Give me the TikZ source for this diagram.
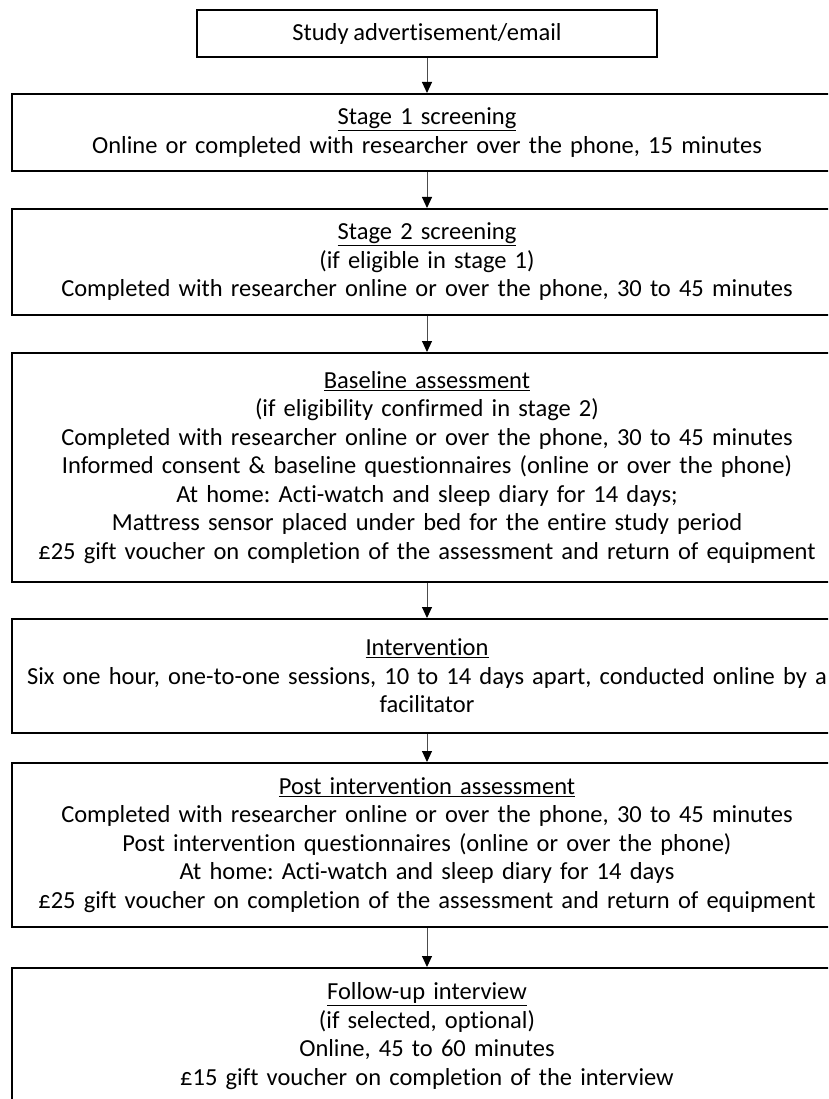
\documentclass[tikz,border=0pt]{standalone}
\usepackage{fontspec}
\setmainfont{Carlito}[Ligatures={NoCommon}, WordSpace=0.85]
\frenchspacing
\usetikzlibrary{arrows.meta, positioning}

\begin{document}
\begin{tikzpicture}[
  x=1pt, y=1pt,
  font=\fontsize{24.5}{28.5}\selectfont,
  stepbox/.style={draw, line width=2pt, rectangle, minimum width=830pt, text width=826pt,
                  align=center, inner sep=0pt, minimum height=#1},
  startbox/.style={draw, line width=2pt, rectangle, minimum width=460pt, minimum height=47pt,
                   align=center, inner sep=0pt},
  arr/.style={-{Triangle[length=11pt, width=10pt, color=black]}, line width=1pt, draw=black!70},
]

\clip (0,0) rectangle (828,-1099);
\fill[white] (0,0) rectangle (828,-1099);

% Recruitment
\node[startbox] (ad) at (427,-33.5) {Study advertisement/email};

% Screening
\node[stepbox=77pt, below=35pt of ad] (scr1)
  {\underline{Stage 1 screening}\\
   Online or completed with researcher over the phone, 15 minutes};

\node[stepbox=106pt, below=36pt of scr1] (scr2)
  {\underline{Stage 2 screening}\\
   (if eligible in stage 1)\\
   Completed with researcher online or over the phone, 30 to 45 minutes};

% Baseline
\node[stepbox=229pt, below=36pt of scr2] (base)
  {\underline{Baseline assessment}\\
   (if eligibility confirmed in stage 2)\\
   Completed with researcher online or over the phone, 30 to 45 minutes\\
   Informed consent \& baseline questionnaires (online or over the phone)\\
   At home: Acti-watch and sleep diary for 14 days;\\
   Mattress sensor placed under bed for the entire study period\\
   £25 gift voucher on completion of the assessment and return of equipment};

% Intervention
\node[stepbox=114pt, below=35pt of base] (intv)
  {\underline{Intervention}\\
   Six one hour, one-to-one sessions, 10 to 14 days apart, conducted online by a\\
   facilitator};

% Post intervention
\node[stepbox=164pt, below=28pt of intv] (post)
  {\underline{Post intervention assessment}\\
   Completed with researcher online or over the phone, 30 to 45 minutes\\
   Post intervention questionnaires (online or over the phone)\\
   At home: Acti-watch and sleep diary for 14 days\\
   £25 gift voucher on completion of the assessment and return of equipment};

% Follow-up
\node[stepbox=136pt, below=39pt of post] (fup)
  {\underline{Follow-up interview}\\
   (if selected, optional)\\
   Online, 45 to 60 minutes\\
   £15 gift voucher on completion of the interview};

% Arrows
\foreach \a/\b in {ad/scr1, scr1/scr2, scr2/base, base/intv, intv/post, post/fup}
  { \draw[arr] (\a.south) -- (\b.north); }

\end{tikzpicture}
\end{document}
